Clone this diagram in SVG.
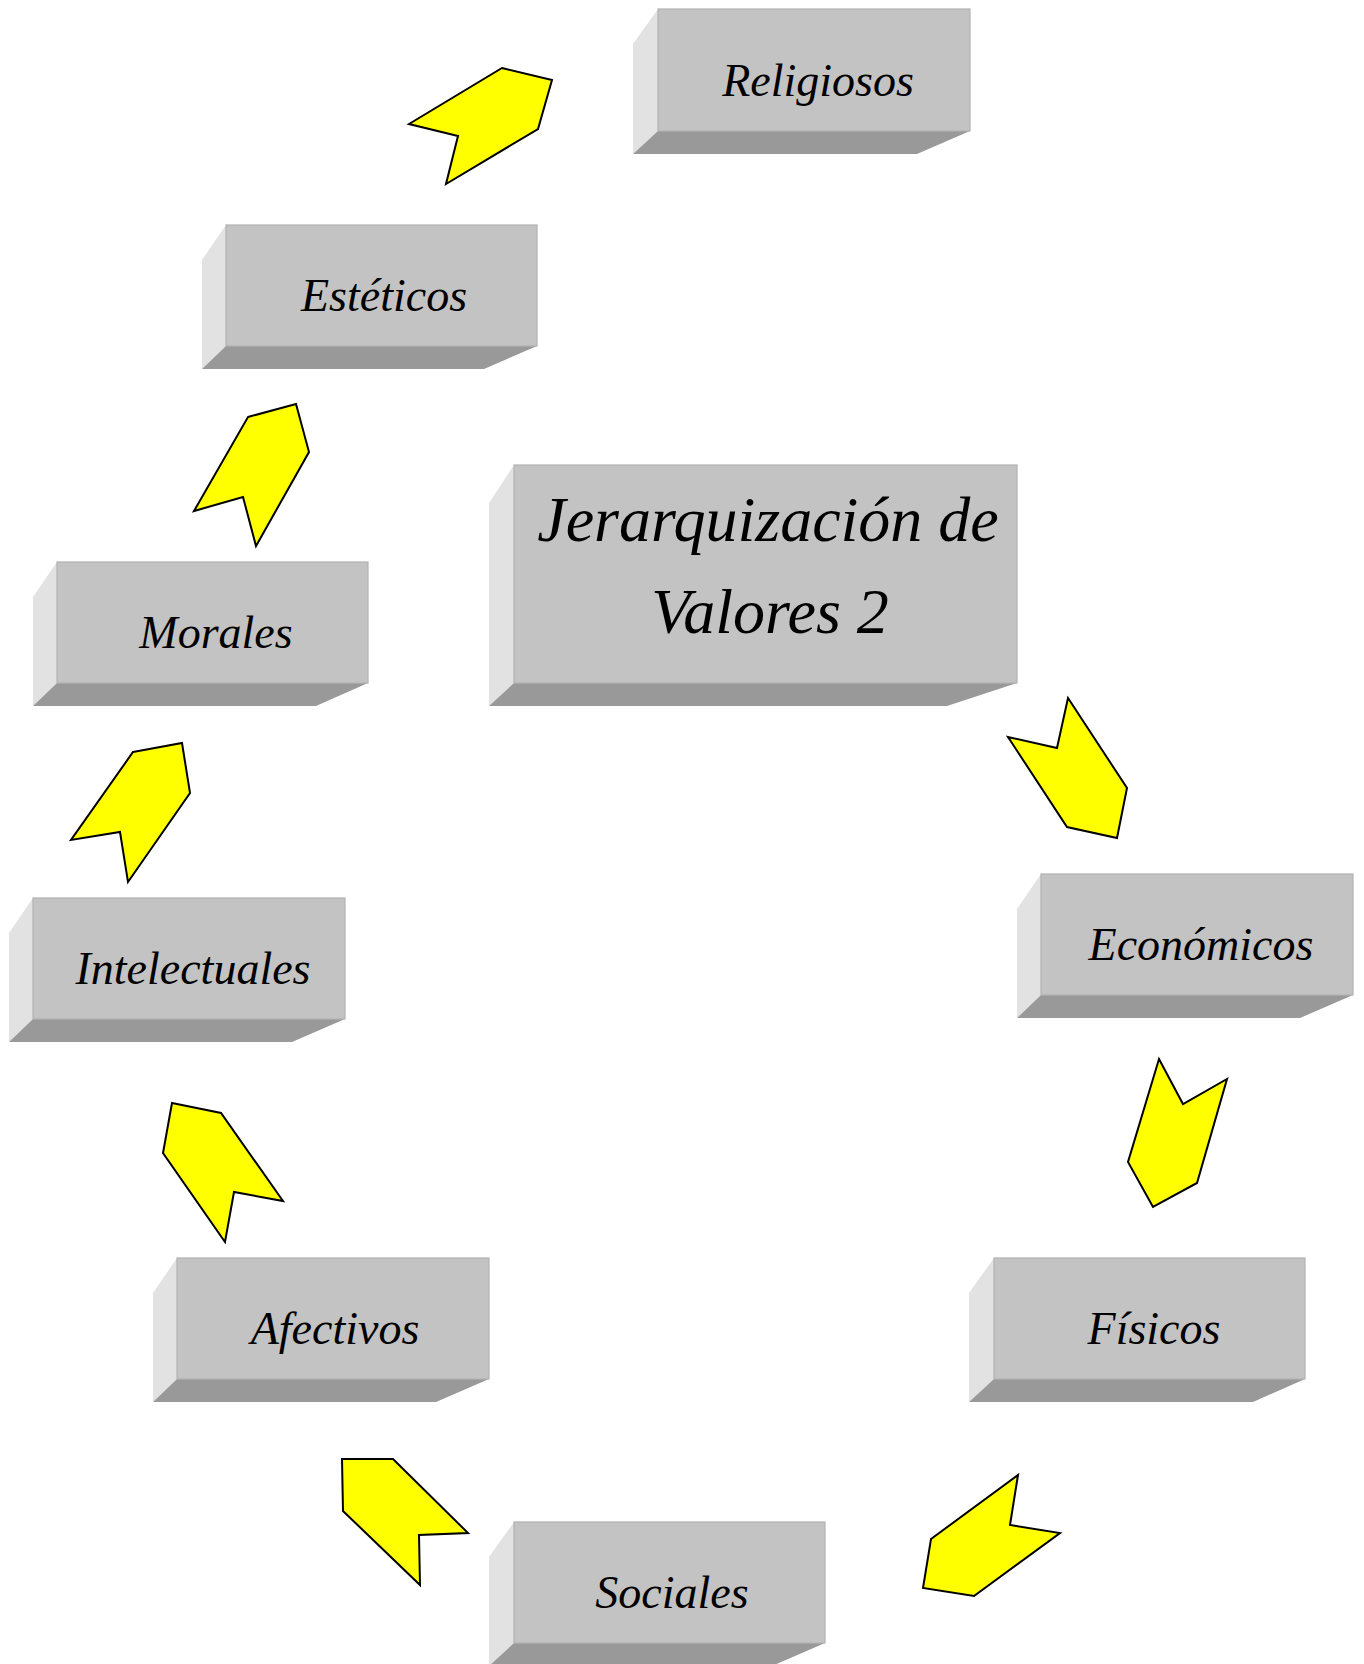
<svg xmlns="http://www.w3.org/2000/svg" width="1364" height="1664" viewBox="0 0 1364 1664">
<style>
.front{fill:#c3c3c3;stroke:#b2b2b2;stroke-width:1.2}
.side{fill:#e2e2e2}
.bottom{fill:#999999}
.lbl{font-family:"Liberation Serif","Times New Roman",serif;font-style:italic;font-size:46px;fill:#000;text-anchor:middle}
.big{font-size:64px}
.arrow{fill:#ffff00;stroke:#000;stroke-width:2;stroke-linejoin:miter}
</style>
<rect width="1364" height="1664" fill="#ffffff"/>
<g id="connectors">
<polygon class="arrow" points="502,68 552,80 538,129 446,184 458,136 409,124"/>
<polygon class="arrow" points="248,417 296,404 309,452 256,546 243,497 194,511"/>
<polygon class="arrow" points="133,752 182,743 190,793 128,882 120,832 71,840"/>
<polygon class="arrow" points="1068,698 1127,788 1117,838 1067,827 1008,737 1057,748"/>
<polygon class="arrow" points="1159,1059 1183,1104 1227,1079 1197,1183 1153,1207 1128,1162"/>
<polygon class="arrow" points="1018,1475 1010,1525 1060,1533 974,1596 923,1588 931,1539"/>
<polygon class="arrow" points="342,1459 393,1459 468,1533 419,1535 420,1585 343,1511"/>
<polygon class="arrow" points="172,1103 221,1113 283,1201 234,1192 225,1242 163,1153"/>
</g>
<g id="node-religiosos">
<polygon class="side" points="633,44 658,9 658,131 633,154"/>
<polygon class="bottom" points="658,131 970,131 917,154 633,154"/>
<rect class="front" x="658" y="9" width="312" height="122"/>
<text class="lbl" x="818" y="96">Religiosos</text>
</g>
<g id="node-esteticos">
<polygon class="side" points="202,260 226,225 226,346 202,369"/>
<polygon class="bottom" points="226,346 537,346 484,369 202,369"/>
<rect class="front" x="226" y="225" width="311" height="121"/>
<text class="lbl" x="384" y="311">Estéticos</text>
</g>
<g id="node-centro">
<polygon class="side" points="489,503 514,465 514,683 489,706"/>
<polygon class="bottom" points="514,683 1017,683 947,706 489,706"/>
<rect class="front" x="514" y="465" width="503" height="218"/>
<text class="lbl big" x="768" y="541">Jerarquización de</text>
<text class="lbl big" x="770" y="633">Valores 2</text>
</g>
<g id="node-morales">
<polygon class="side" points="33,597 57,562 57,683 33,706"/>
<polygon class="bottom" points="57,683 368,683 316,706 33,706"/>
<rect class="front" x="57" y="562" width="311" height="121"/>
<text class="lbl" x="216" y="648">Morales</text>
</g>
<g id="node-intelectuales">
<polygon class="side" points="9,933 33,898 33,1019 9,1042"/>
<polygon class="bottom" points="33,1019 345,1019 292,1042 9,1042"/>
<rect class="front" x="33" y="898" width="312" height="121"/>
<text class="lbl" x="193" y="984">Intelectuales</text>
</g>
<g id="node-economicos">
<polygon class="side" points="1017,909 1041,874 1041,995 1017,1018"/>
<polygon class="bottom" points="1041,995 1353,995 1300,1018 1017,1018"/>
<rect class="front" x="1041" y="874" width="312" height="121"/>
<text class="lbl" x="1201" y="960">Económicos</text>
</g>
<g id="node-afectivos">
<polygon class="side" points="153,1293 177,1258 177,1379 153,1402"/>
<polygon class="bottom" points="177,1379 489,1379 436,1402 153,1402"/>
<rect class="front" x="177" y="1258" width="312" height="121"/>
<text class="lbl" x="335" y="1344">Afectivos</text>
</g>
<g id="node-fisicos">
<polygon class="side" points="969,1293 994,1258 994,1379 969,1402"/>
<polygon class="bottom" points="994,1379 1305,1379 1253,1402 969,1402"/>
<rect class="front" x="994" y="1258" width="311" height="121"/>
<text class="lbl" x="1154" y="1344">Físicos</text>
</g>
<g id="node-sociales">
<polygon class="side" points="489,1557 514,1522 514,1643 489,1666"/>
<polygon class="bottom" points="514,1643 825,1643 772,1666 489,1666"/>
<rect class="front" x="514" y="1522" width="311" height="121"/>
<text class="lbl" x="672" y="1608">Sociales</text>
</g>
</svg>
